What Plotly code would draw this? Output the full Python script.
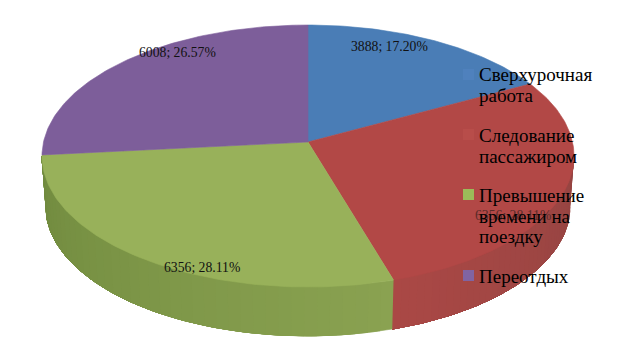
import math
import plotly.graph_objects as go

categories = ["Сверхурочная работа", "Следование пассажиром", "Превышение времени на поездку", "Переотдых"]
values = [3888, 6356, 6356, 6008]
percents = ["17.20%", "28.11%", "28.11%", "26.57%"]
top_colors = ["#4a7db6", "#b24846", "#98b15a", "#7d5e9a"]
swatch_colors = ["#4f81bd", "#b84d4a", "#9bbb59", "#8064a2"]
wall_left_colors = {1: (148, 68, 66), 2: (138, 162, 81)}
wall_right_colors = {1: (170, 72, 69), 2: (112, 138, 62)}
legend_lines = [["Сверхурочная", "работа"], ["Следование", "пассажиром"],
                ["Превышение", "времени на", "поездку"], ["Переотдых"]]
legend_y = [[74, 95], [135, 156], [195, 216, 236], [276]]
swatch_y = [74.5, 134.5, 194.5, 275.5]
label_pos = [(389, 46), (513, 215), (202, 267), (177, 52)]
label_colors = ["#111", "#5a2b29", "#111", "#111"]

CX, CY = 308, 142
B, A, P = 264.5, 129.5, 0.107
DROP, SHRINK = 51, 0.985
SERIF = "Liberation Serif"


def top(t):
    w = 1 + P * math.cos(t)
    return CX + B * math.sin(t) / w, CY - A * math.cos(t) / w


def bottom(t):
    x, y = top(t)
    return CX + SHRINK * (x - CX), CY + DROP + SHRINK * (y - CY)


def arc(fn, a, b, n=None):
    n = n or max(2, int(abs(b - a) * 60))
    pts = [fn(a + (b - a) * i / n) for i in range(n + 1)]
    return [p[0] for p in pts], [p[1] for p in pts]


def poly(xs, ys, color, name=None):
    return go.Scatter(x=xs, y=ys, mode="lines", fill="toself", fillcolor=color,
                      line=dict(color=color, width=0.6), hoverinfo="skip" if name is None else "text",
                      text=name, showlegend=False)


total = sum(values)
edges = [0.0]
for v in values:
    edges.append(edges[-1] + 2 * math.pi * v / total)

fig = go.Figure()
# Outer wall, front half only: each strip runs to the far end of its slice and the next paints over it
tangent_r = math.acos(-P)
tangent_l = 2 * math.pi - tangent_r
for i in (1, 2):
    a = max(edges[i], tangent_r)
    b = min(edges[i + 1], tangent_l)
    strips = 40
    for s in range(strips):
        t0 = a + (b - a) * s / strips
        f = (s + 0.5) / strips
        c = [round(wall_left_colors[i][k] + (wall_right_colors[i][k] - wall_left_colors[i][k]) * f) for k in range(3)]
        xt, yt = arc(top, t0, b)
        xb, yb = arc(bottom, b, t0)
        fig.add_trace(poly(xt + xb, yt + yb, f"rgb({c[0]},{c[1]},{c[2]})"))

# Top face
for i, cat in enumerate(categories):
    xs, ys = arc(top, edges[i], edges[i + 1])
    fig.add_trace(poly([CX] + xs + [CX], [CY] + ys + [CY], top_colors[i], cat))

# Key swatches
fig.add_trace(go.Scatter(x=[468.5] * 4, y=swatch_y, mode="markers", hoverinfo="skip", showlegend=False,
                         marker=dict(symbol="square", size=11, color=swatch_colors, line=dict(width=0))))

annotations = []
for i, v in enumerate(values):
    annotations.append(dict(x=label_pos[i][0], y=label_pos[i][1], text=f"{v}; {percents[i]}", showarrow=False,
                            xanchor="center", yanchor="middle", font=dict(family=SERIF, size=13.7, color=label_colors[i])))
for lines, ys in zip(legend_lines, legend_y):
    for line, y in zip(lines, ys):
        annotations.append(dict(x=479, y=y, text=line, showarrow=False, xanchor="left", yanchor="middle",
                                xshift=-2, font=dict(family=SERIF, size=19, color="#000")))

fig.update_layout(width=619, height=361, margin=dict(l=0, r=0, t=0, b=0), paper_bgcolor="white", plot_bgcolor="white",
                  showlegend=False, annotations=annotations,
                  xaxis=dict(range=[0, 619], visible=False, fixedrange=True),
                  yaxis=dict(range=[361, 0], visible=False, fixedrange=True))
fig.write_html("out.html", post_script="document.body.style.margin='0';", config={"displayModeBar": False})
